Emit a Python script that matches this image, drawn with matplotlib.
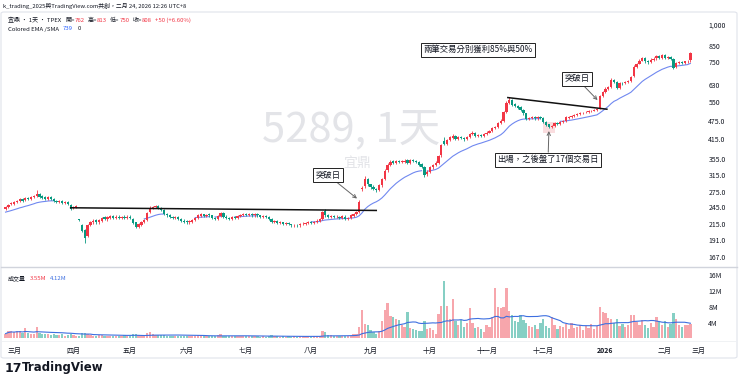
import numpy as np
import pandas as pd
import matplotlib
matplotlib.use("Agg")
from matplotlib import pyplot as plt
from matplotlib.patches import FancyBboxPatch, Rectangle
from matplotlib.lines import Line2D
from matplotlib.ticker import NullLocator

plt.rcParams['font.family'] = ['Noto Sans CJK TC', 'DejaVu Sans']

# 日K資料 (2025/02/25 ~ 2026/02/24)
opens = [
    242, 246, 251, 252, 255, 257, 261, 259, 264, 261, 265, 267, 271, 267, 265, 262, 265, 261, 258, 255,
    257, 253, 256, 249, 243, 246, 223, 214, 205, 196, 214, 218, 222, 218, 221, 227, 223, 226, 229, 225,
    228, 225, 228, 226, 228, 224, 218, 211, 214, 219, 222, 236, 243, 245, 248, 244, 240, 233, 231, 228,
    225, 227, 224, 221, 220, 218, 219, 222, 226, 229, 232, 229, 232, 230, 226, 224, 229, 235, 228, 226,
    224, 228, 226, 229, 231, 233, 231, 233, 230, 232, 230, 228, 229, 227, 224, 219, 220, 217, 218, 216,
    217, 215, 213, 214, 213, 215, 216, 217, 218, 217, 219, 221, 224, 238, 231, 227, 229, 227, 228, 226,
    228, 224, 226, 229, 232, 237, 281, 288, 304, 292, 287, 282, 279, 290, 305, 326, 340, 350, 345, 351,
    347, 348, 352, 346, 353, 351, 348, 341, 335, 316, 322, 333, 340, 345, 366, 410, 400, 413, 419, 425,
    416, 421, 419, 414, 420, 432, 435, 426, 429, 425, 432, 436, 440, 453, 455, 470, 478, 510, 548, 560,
    542, 535, 530, 520, 505, 484, 488, 491, 486, 491, 488, 472, 464, 455, 458, 470, 466, 473, 476, 489,
    492, 496, 500, 504, 506, 509, 511, 514, 516, 519, 526, 580, 598, 612, 620, 652, 642, 616, 641, 638,
    642, 648, 672, 725, 742, 760, 775, 756, 750, 765, 772, 786, 775, 792, 775, 780, 770, 722, 745, 752,
    748, 755, 762]
highs = [
    247, 252, 255, 257, 260, 263, 263, 265, 266, 268, 270, 279, 273, 269, 267, 267, 267, 263, 260, 259,
    259, 257, 258, 251, 248, 249, 224, 216, 207, 216, 221, 223, 223, 224, 228, 229, 229, 231, 231, 230,
    230, 229, 230, 230, 230, 226, 219, 217, 221, 224, 237, 247, 248, 250, 250, 246, 241, 235, 232, 229,
    229, 229, 226, 223, 222, 222, 224, 228, 232, 234, 233, 233, 234, 231, 228, 231, 237, 236, 230, 228,
    229, 229, 231, 233, 234, 235, 235, 235, 234, 234, 231, 231, 230, 229, 225, 222, 222, 220, 219, 219,
    219, 216, 216, 216, 217, 218, 219, 220, 220, 221, 223, 226, 238, 241, 233, 231, 230, 230, 229, 231,
    230, 228, 232, 234, 238, 259, 288, 312, 308, 294, 290, 285, 293, 308, 328, 344, 352, 354, 354, 354,
    352, 355, 356, 355, 356, 354, 350, 344, 338, 326, 336, 343, 349, 368, 399, 420, 416, 424, 430, 428,
    424, 424, 422, 424, 436, 440, 438, 432, 432, 435, 440, 444, 456, 460, 474, 483, 514, 556, 575, 566,
    548, 540, 533, 524, 508, 492, 494, 494, 494, 494, 491, 476, 467, 462, 474, 474, 476, 480, 494, 496,
    499, 504, 507, 510, 512, 515, 519, 520, 523, 528, 584, 602, 620, 626, 662, 660, 648, 645, 646, 647,
    653, 675, 732, 748, 768, 782, 780, 762, 772, 778, 795, 795, 798, 800, 786, 785, 772, 750, 760, 758,
    760, 765, 813]
lows = [
    240, 244, 249, 250, 253, 255, 256, 257, 259, 259, 263, 265, 264, 262, 260, 260, 259, 256, 253, 253,
    251, 251, 250, 240, 241, 244, 221, 202, 186, 194, 212, 216, 216, 216, 219, 222, 221, 224, 224, 223,
    223, 223, 224, 224, 223, 215, 209, 209, 212, 217, 220, 234, 241, 243, 242, 238, 231, 228, 226, 224,
    223, 222, 219, 217, 216, 216, 217, 220, 224, 227, 227, 227, 228, 224, 222, 222, 227, 226, 224, 222,
    222, 224, 224, 227, 229, 229, 229, 228, 228, 228, 226, 226, 225, 222, 217, 217, 215, 215, 214, 214,
    213, 211, 211, 211, 211, 213, 214, 215, 215, 215, 217, 219, 222, 228, 225, 225, 225, 225, 224, 224,
    222, 222, 224, 227, 230, 235, 278, 284, 289, 283, 279, 276, 277, 287, 302, 322, 337, 342, 343, 344,
    344, 345, 343, 343, 347, 344, 337, 332, 310, 312, 320, 330, 337, 342, 362, 396, 397, 409, 415, 413,
    413, 414, 410, 411, 417, 428, 422, 422, 421, 422, 429, 433, 437, 449, 451, 466, 474, 506, 544, 536,
    530, 524, 516, 500, 480, 480, 484, 482, 482, 484, 468, 458, 450, 451, 455, 462, 463, 470, 473, 485,
    489, 493, 497, 501, 503, 505, 508, 511, 513, 516, 522, 575, 592, 606, 615, 638, 608, 612, 630, 633,
    638, 644, 668, 718, 738, 755, 748, 740, 745, 760, 765, 768, 770, 768, 766, 762, 712, 715, 740, 740,
    742, 748, 750]
closes = [
    245, 250, 253, 255, 258, 261, 258, 263, 261, 266, 268, 272, 266, 264, 262, 265, 261, 258, 255, 257,
    253, 255, 252, 242, 246, 247, 222, 204, 193, 214, 219, 221, 218, 222, 226, 224, 227, 229, 226, 228,
    225, 227, 226, 228, 225, 217, 211, 215, 219, 222, 235, 244, 245, 247, 244, 240, 233, 230, 228, 226,
    227, 224, 221, 219, 218, 220, 222, 226, 230, 232, 229, 231, 230, 226, 224, 229, 235, 228, 226, 224,
    227, 226, 229, 231, 232, 231, 233, 230, 232, 230, 228, 229, 227, 224, 219, 220, 217, 218, 216, 217,
    215, 213, 214, 213, 215, 216, 217, 218, 217, 219, 221, 224, 236, 230, 227, 229, 227, 228, 226, 229,
    224, 226, 230, 232, 236, 256, 284, 305, 292, 286, 282, 279, 290, 305, 325, 340, 348, 345, 350, 347,
    349, 351, 346, 352, 350, 348, 340, 335, 315, 322, 333, 340, 345, 365, 395, 400, 412, 420, 424, 416,
    420, 418, 414, 420, 432, 434, 426, 428, 425, 432, 436, 440, 452, 455, 470, 478, 510, 548, 560, 540,
    534, 528, 520, 505, 484, 488, 490, 486, 490, 488, 472, 462, 455, 458, 470, 466, 473, 476, 490, 492,
    495, 500, 503, 506, 508, 511, 515, 516, 519, 524, 578, 595, 612, 618, 655, 645, 615, 640, 638, 642,
    648, 668, 725, 740, 760, 775, 755, 750, 765, 770, 785, 775, 790, 775, 778, 770, 720, 745, 752, 748,
    755, 758, 808]
volumes = [  # 百萬股
    1.2, 1.8, 1.9, 1.5, 2.0, 1.8, 1.3, 2.6, 1.3, 1.2, 1.0, 2.8, 1.4, 1.1, 1.0, 1.2, 0.9, 1.1, 0.8, 0.9,
    1.0, 0.7, 0.9, 1.2, 0.8, 0.7, 0.6, 1.4, 1.3, 1.1, 0.8, 0.6, 0.7, 0.8, 0.9, 0.6, 0.7, 0.6, 0.5, 0.7,
    0.6, 0.5, 0.8, 0.6, 0.7, 1.0, 1.1, 0.8, 0.7, 0.9, 1.4, 1.6, 1.0, 0.9, 0.8, 0.9, 0.8, 0.6, 0.7, 0.5,
    0.6, 0.7, 0.6, 0.5, 0.6, 0.5, 0.6, 0.7, 0.9, 0.8, 0.6, 0.7, 0.6, 0.5, 0.6, 0.8, 1.0, 0.7, 0.5, 0.6,
    0.5, 0.6, 0.7, 0.6, 0.7, 0.5, 0.6, 0.5, 0.7, 0.5, 0.4, 0.5, 0.4, 0.5, 0.9, 0.5, 0.6, 0.4, 0.5, 0.4,
    0.5, 0.4, 0.5, 0.4, 0.5, 0.6, 0.5, 0.5, 0.4, 0.5, 0.6, 0.7, 1.8, 1.6, 0.9, 0.8, 0.6, 0.5, 0.5, 0.7,
    0.5, 0.5, 0.7, 1.0, 1.2, 2.8, 7.3, 3.6, 3.4, 2.2, 1.5, 1.2, 1.8, 4.5, 7.2, 8.9, 5.6, 5.3, 5.0, 4.6,
    3.5, 3.0, 6.8, 2.6, 2.4, 2.2, 1.8, 2.0, 4.3, 2.4, 2.6, 2.2, 1.0, 6.2, 8.2, 14.5, 8.2, 4.8, 10.0, 4.5,
    3.5, 4.6, 3.0, 3.8, 7.7, 3.8, 2.6, 3.0, 2.5, 1.7, 3.5, 3.0, 5.5, 12.7, 8.0, 7.6, 8.0, 12.8, 7.0, 6.0,
    4.5, 4.2, 6.0, 4.6, 4.0, 3.2, 2.8, 3.5, 2.5, 3.8, 4.9, 3.2, 2.6, 5.4, 3.3, 2.4, 3.1, 2.9, 3.6, 2.4,
    3.8, 2.6, 3.0, 3.5, 2.2, 3.1, 2.7, 3.6, 2.4, 3.2, 8.0, 6.8, 6.5, 5.2, 5.0, 4.0, 4.8, 3.2, 3.6, 2.8,
    3.5, 5.8, 6.0, 4.2, 3.5, 4.6, 3.3, 2.6, 4.0, 3.0, 5.4, 4.2, 3.3, 4.5, 2.8, 3.6, 6.4, 4.8, 3.3, 3.0,
    3.4, 3.3, 3.55]

ema_seed = 235          # 圖左端 EMA 起點
month_pos = [3, 24, 44, 64, 85, 108, 129, 150, 170, 190, 212, 233, 245]
month_labels = ['三月', '四月', '五月', '六月', '七月', '八月', '九月', '十月',
                '十一月', '十二月', '2026', '二月', '三月']
price_ticks = [167, 191, 215, 245, 275, 315, 355, 415, 475, 550, 630, 750, 850, 1000]
price_tick_labels = ['167.0', '191.0', '215.0', '245.0', '275.0', '315.0', '355.0',
                     '415.0', '475.0', '550', '630', '750', '850', '1,000']
vol_ticks = [4, 8, 12, 16]
vol_tick_labels = ['4M', '8M', '12M', '16M']

# 趨勢線 (index, price)
resist1 = ([23, 131], [244, 239])
resist2 = ([177.5, 212.5], [571, 522])

UP = '#F23645'
DOWN = '#089981'
UP_V = '#F7A6AC'
DOWN_V = '#86CFC4'
TXT = '#131722'
EMA_C = '#7088F0'
VMA_C = '#3D6FE0'

o = np.array(opens, float)
h = np.array(highs, float)
l = np.array(lows, float)
c = np.array(closes, float)
v = np.array(volumes, float)
n = len(c)
x = np.arange(n)
up = c >= o

# EMA20
ema = np.zeros(n)
prev = ema_seed
for i in range(n):
    prev = prev + 2 / 21 * (c[i] - prev)
    ema[i] = prev
rising = np.zeros(n, bool)
rising[1:] = ema[1:] > ema[:-1]
show = rising | np.r_[rising[1:], False]
ema_line = np.where(show, ema, np.nan)
vma = pd.Series(v).rolling(20, min_periods=1).mean().values

W, H = 740, 383
def fx(px): return px / W
def fy(py): return 1 - py / H

fig = plt.figure(figsize=(7.4, 3.83), dpi=100)
renderer = fig.canvas.get_renderer()
ax = fig.add_axes([fx(3), fy(266), fx(697), 254 / H])
axv = fig.add_axes([fx(3), fy(340), fx(697), 72 / H], sharex=ax)

# 水印
ax.text(0.50, 0.535, '5289, 1天', transform=ax.transAxes, ha='center', va='center',
        fontsize=30, color='#E3E4E8', zorder=0)
ax.text(0.508, 0.405, '宜鼎', transform=ax.transAxes, ha='center', va='center',
        fontsize=10, color='#E3E4E8', zorder=0)

# K線
cols = np.where(up, UP, DOWN)
ax.vlines(x, l, h, colors=cols, lw=0.6, zorder=3)
body_lo = np.minimum(o, c)
body_h = np.maximum(np.abs(c - o), 0.5)
ax.bar(x, body_h, bottom=body_lo, width=0.8, color=cols, lw=0, zorder=4)
ax.plot(x, ema_line, color=EMA_C, lw=0.8, zorder=2)

ax.set_yscale('log')
ax.set_ylim(155.7, 1105)
ax.set_xlim(-0.9, 245.4)
ax.yaxis.set_minor_locator(NullLocator())
ax.set_yticks(price_ticks)
ax.set_yticklabels(price_tick_labels)
ax.yaxis.tick_right()
ax.tick_params(axis='y', length=0, pad=6, labelsize=5, labelcolor=TXT)
ax.tick_params(axis='x', length=0, labelbottom=False)
for s in ax.spines.values():
    s.set_visible(False)

# 趨勢線
ax.plot(*resist1, color='#111111', lw=1.1, zorder=5)
ax.plot(*resist2, color='#111111', lw=1.1, zorder=5)

# 出場區塊
ax.add_patch(Rectangle((189.9, 435), 4.2, 38, color='#F9D5D8', alpha=0.8, lw=0, zorder=1))

box = dict(boxstyle='square,pad=0.3', fc='white', ec='#222222', lw=0.7)
arr = dict(arrowstyle='->', color='#666666', lw=0.7, shrinkA=0, shrinkB=0)
ax.annotate('突破日', xy=(124.2, 262), xytext=(113.9, 314), fontsize=6, color=TXT,
            ha='center', va='center', bbox=box, arrowprops=arr, zorder=6)
ax.annotate('突破日', xy=(209.2, 560), xytext=(202, 659), fontsize=6, color=TXT,
            ha='center', va='center', bbox=box, arrowprops=arr, zorder=6)
ax.annotate('出場，之後盤了17個交易日', xy=(192, 441), xytext=(191.7, 354), fontsize=6,
            color=TXT, ha='center', va='center', bbox=box, arrowprops=arr, zorder=6)
ax.text(167, 825, '兩筆交易分別獲利85%與50%', fontsize=6, color=TXT, ha='center',
        va='center', bbox=box, zorder=6)

# 成交量
axv.bar(x, v, width=0.8, color=np.where(up, UP_V, DOWN_V), lw=0)
axv.plot(x, vma, color=VMA_C, lw=0.8)
axv.set_ylim(-0.4, 17.8)
axv.set_yticks(vol_ticks)
axv.set_yticklabels(vol_tick_labels)
axv.yaxis.tick_right()
axv.tick_params(axis='y', length=0, pad=6, labelsize=5, labelcolor=TXT)
axv.set_xticks(month_pos)
axv.set_xticklabels(month_labels)
axv.tick_params(axis='x', length=0, pad=5, labelsize=5, labelcolor=TXT)
for t in axv.get_xticklabels():
    if t.get_text() == '2026':
        t.set_fontweight('bold')
for s in axv.spines.values():
    s.set_visible(False)

# 框線與分隔線
fig.add_artist(FancyBboxPatch((fx(1), fy(358)), fx(736), 346 / H,
                              boxstyle='round,pad=0,rounding_size=0.004',
                              fc='none', ec='#E0E3EB', lw=0.8, transform=fig.transFigure))
fig.add_artist(Line2D([fx(1), fx(737)], [fy(267), fy(267)], color='#D1D4DC', lw=1.0))
fig.add_artist(Line2D([fx(1), fx(737)], [fy(341), fy(341)], color='#EEF0F3', lw=0.6))


def text_row(px, py, pieces, size=4.3):
    # 依序排列不同顏色的文字片段
    for s, col, gap in pieces:
        t = fig.text(fx(px), fy(py), s, fontsize=size, color=col, va='center')
        px += t.get_window_extent(renderer).width + gap


fig.text(fx(3), fy(6), 'k_trading_2025與TradingView.com共創，二月 24, 2026 12:26 UTC+8',
         fontsize=4.2, color=TXT, va='center')
text_row(8, 20.5, [('宜鼎 · 1天 · TPEX', TXT, 4), ('開=', TXT, 0), ('762', UP, 3),
                   ('高=', TXT, 0), ('813', UP, 3), ('低=', TXT, 0), ('750', UP, 3),
                   ('收=', TXT, 0), ('808', UP, 3), ('+50 (+6.60%)', UP, 0)])
text_row(8, 29, [('Colored EMA /SMA', TXT, 4), ('739', '#2962FF', 5), ('0', TXT, 0)])
text_row(8, 278, [('成交量', TXT, 4), ('3.55M', UP, 3), ('4.12M', VMA_C, 0)])

fig.text(fx(5), fy(368), '17', fontsize=9, fontweight='bold', color=TXT, va='center',
         family='DejaVu Sans')
fig.text(fx(22), fy(368), 'TradingView', fontsize=8.5, fontweight='bold', color=TXT,
         va='center', family='DejaVu Sans')

fig.savefig('out.png', dpi=100)
